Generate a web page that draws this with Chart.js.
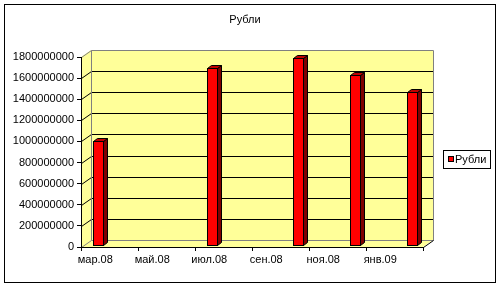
<!DOCTYPE html>
<html>
<head>
<meta charset="utf-8">
<script src="https://cdn.jsdelivr.net/npm/chart.js@4/dist/chart.umd.min.js"></script>
<style>
  body { margin: 0; background: #fff; }
  canvas { display: block; }
</style>
</head>
<body>
<canvas id="rub-chart" width="501" height="288"></canvas>
<script>
const months = ["мар.08", "апр.08", "май.08", "июн.08", "июл.08", "авг.08",
                "сен.08", "окт.08", "ноя.08", "дек.08", "янв.09", "фев.09"];
const rubles = [990000000, null, null, null, 1675000000, null,
                null, 1770000000, null, 1610000000, null, 1450000000];
const yMax = 1800000000;
const yStep = 200000000;
const seriesName = "Рубли";
const chartTitle = "Рубли";

const FONT = "11px 'Liberation Sans', Arial, sans-serif";
const depth = { dx: 10, dy: -7 };   // back wall offset
const barShift = { dx: 3, dy: -2 }; // bar front face offset
const barDepth = { dx: 4, dy: -3 };

function px(v) { return Math.round(v) + 0.5; }

function line(ctx, x1, y1, x2, y2, color) {
    ctx.beginPath();
    ctx.strokeStyle = color;
    ctx.lineWidth = 1;
    ctx.moveTo(px(x1), px(y1));
    ctx.lineTo(px(x2), px(y2));
    ctx.stroke();
}

// walls, floor and gridlines, drawn before the axes
const walls3d = {
    id: "walls3d",
    beforeDraw(chart) {
        const { ctx, chartArea: a, scales } = chart;
        const L = a.left, R = a.right, T = a.top, B = a.bottom;
        const bl = L + depth.dx, br = R + depth.dx, bt = T + depth.dy, bb = B + depth.dy;
        ctx.save();
        ctx.fillStyle = "#ffff99";
        ctx.beginPath();
        ctx.moveTo(L, T); ctx.lineTo(bl, bt); ctx.lineTo(br, bt);
        ctx.lineTo(br, bb); ctx.lineTo(R, B); ctx.lineTo(L, B);
        ctx.closePath();
        ctx.fill();

        scales.y.ticks.forEach((t) => {
            const yf = scales.y.getPixelForValue(t.value);
            const yb = yf + depth.dy;
            const edge = t.value === 0 || t.value === yMax;
            const col = edge ? "#808080" : "#000";
            line(ctx, L, yf, bl, yb, col);
            line(ctx, bl, yb, br, yb, col);
        });
        line(ctx, bl, bt, bl, bb, "#808080");
        line(ctx, br, bt, br, bb, "#808080");
        line(ctx, R, B, br, bb, "#000");
        ctx.restore();
    },
    afterDatasetsDraw(chart) {
        const { ctx } = chart;
        const meta = chart.getDatasetMeta(0);
        ctx.save();
        ctx.lineWidth = 1;
        ctx.strokeStyle = "#000";
        meta.data.forEach((bar, i) => {
            if (rubles[i] == null) return;
            const p = bar.getProps(["x", "y", "base", "width"], true);
            const l = Math.round(p.x - p.width / 2 + barShift.dx) + 0.5;
            const r = Math.round(p.x + p.width / 2 + barShift.dx) + 0.5;
            const t = Math.round(p.y + barShift.dy) + 0.5;
            const b = Math.round(p.base + barShift.dy) + 0.5;
            const ox = barDepth.dx, oy = barDepth.dy;

            ctx.fillStyle = "#800000";
            ctx.beginPath();
            ctx.moveTo(r, t); ctx.lineTo(r + ox, t + oy); ctx.lineTo(r + ox, b + oy); ctx.lineTo(r, b);
            ctx.closePath(); ctx.fill(); ctx.stroke();

            ctx.fillStyle = "#c00000";
            ctx.beginPath();
            ctx.moveTo(l, t); ctx.lineTo(l + ox, t + oy); ctx.lineTo(r + ox, t + oy); ctx.lineTo(r, t);
            ctx.closePath(); ctx.fill(); ctx.stroke();

            ctx.fillStyle = "#ff0000";
            ctx.fillRect(l, t, r - l, b - t);
            ctx.strokeRect(l, t, r - l, b - t);
        });
        ctx.restore();
    },
    afterDraw(chart) {
        const { ctx } = chart;
        ctx.save();
        ctx.strokeStyle = "#000";
        ctx.lineWidth = 1;
        ctx.strokeRect(4.5, 4.5, 491, 278);

        ctx.font = FONT;
        ctx.fillStyle = "#000";
        ctx.textBaseline = "middle";
        ctx.textAlign = "center";
        ctx.fillText(chartTitle, 245, 20);

        // legend
        ctx.strokeRect(443.5, 150.5, 47, 18);
        ctx.fillStyle = "#ff0000";
        ctx.fillRect(448.5, 156.5, 5, 5);
        ctx.strokeRect(448.5, 156.5, 5, 5);
        ctx.fillStyle = "#000";
        ctx.textAlign = "left";
        ctx.fillText(seriesName, 455, 160);
        ctx.restore();
    }
};

new Chart(document.getElementById("rub-chart"), {
    type: "bar",
    data: {
        labels: months,
        datasets: [{
            label: seriesName,
            data: rubles,
            backgroundColor: "rgba(0,0,0,0)",
            borderWidth: 0,
            categoryPercentage: 1,
            barPercentage: 0.35
        }]
    },
    options: {
        responsive: false,
        animation: false,
        devicePixelRatio: 1,
        layout: { padding: { top: 57, right: 78, bottom: 0, left: 0 } },
        plugins: {
            legend: { display: false },
            title: { display: false },
            tooltip: { enabled: false }
        },
        scales: {
            x: {
                afterFit(scale) { scale.height = 41; },
                border: { color: "#000" },
                grid: {
                    offset: true,
                    drawOnChartArea: false,
                    tickLength: 4,
                    color: (c) => (c.index === undefined || c.index % 2 === 0) ? "#000" : "rgba(0,0,0,0)"
                },
                ticks: {
                    autoSkip: false,
                    maxRotation: 0,
                    padding: 2,
                    color: "#000",
                    font: { family: "'Liberation Sans', Arial, sans-serif", size: 11 },
                    callback: function (value, index) {
                        return index % 2 === 0 ? this.getLabelForValue(value) : "";
                    }
                }
            },
            y: {
                min: 0,
                max: yMax,
                afterFit(scale) { scale.width = 81; },
                border: { color: "#000" },
                grid: { drawOnChartArea: false, tickLength: 4, color: "#000" },
                ticks: {
                    stepSize: yStep,
                    padding: 3,
                    color: "#000",
                    font: { family: "'Liberation Sans', Arial, sans-serif", size: 11 },
                    callback: (v) => String(v)
                }
            }
        }
    },
    plugins: [walls3d]
});
</script>
</body>
</html>
